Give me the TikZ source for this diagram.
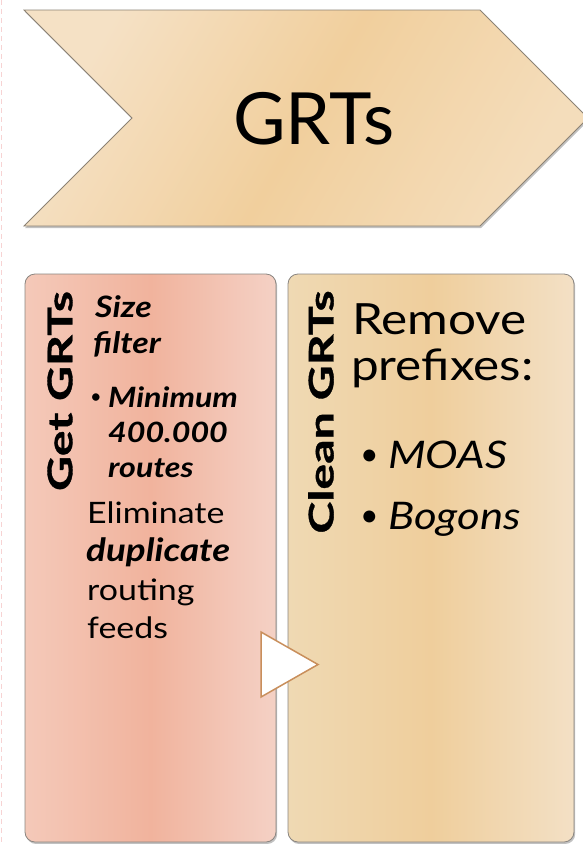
\documentclass[tikz,border=0pt]{standalone}
\usepackage{fontspec}
\setmainfont{Lato}
\newfontfamily\panelfont{Lato}[FakeStretch=1.15]
\newfontfamily\vlabelfont{Lato}[FakeStretch=1.42, FakeBold=1]
\usetikzlibrary{shadows}
\definecolor{chevA}{HTML}{F5E1C5}
\definecolor{chevB}{HTML}{F1CF9D}
\definecolor{chevC}{HTML}{F4DDBB}
\definecolor{chevline}{HTML}{8C8274}
\definecolor{lpA}{HTML}{F4C9B9}
\definecolor{lpB}{HTML}{F1B39D}
\definecolor{lpC}{HTML}{F4D1C5}
\definecolor{rpA}{HTML}{EFD9B3}
\definecolor{rpB}{HTML}{EFCE9C}
\definecolor{rpC}{HTML}{F3E0C5}
\definecolor{panelline}{HTML}{8A8580}
\definecolor{triline}{HTML}{C98F5C}
\definecolor{slideedge}{HTML}{F7D3D3}
\tikzset{
  softshadow/.style={drop shadow={shadow xshift=1.2pt, shadow yshift=-2pt, opacity=0.35, fill=black!70}},
  panel/.style={draw=panelline, line width=0.8pt, rounded corners=10pt, softshadow, inner sep=0pt},
  vlabel/.style={rotate=90, inner sep=0pt, font=\vlabelfont\bfseries\fontsize{34}{40}\selectfont},
  txt/.style={anchor=base west, inner sep=0pt},
  lvone/.style={txt, font=\panelfont\fontsize{29.5}{36}\selectfont},
  lvtwo/.style={txt, font=\panelfont\fontsize{28}{32}\selectfont},
  rvone/.style={txt, font=\panelfont\fontsize{43}{48}\selectfont},
  rvtwo/.style={txt, font=\panelfont\fontsize{38}{44}\selectfont},
  bul/.style={txt, font=\fontsize{20}{24}\selectfont},
  tri/.style={draw=triline, fill=white, line width=1.5pt, line join=miter}
}
\begin{document}
\begin{tikzpicture}[x=1pt, y=-1pt]
\useasboundingbox (0,0) rectangle (583,844);
\clip (0,0) rectangle (583,844);
% slide edge
\draw[slideedge, line width=1.2pt, dash pattern=on 5pt off 4pt] (1.5,0) -- (1.5,844);
% chevron
\path[draw=chevline, line width=0.8pt, softshadow,
      left color=chevA, right color=chevC, middle color=chevB, shading angle=60]
  (24,10) -- (480,10) -- (588,118) -- (480,226) -- (24,226) -- (132,118) -- cycle;
\node[anchor=base, inner sep=0pt, font=\fontsize{72}{80}\selectfont] (title) at (314,144) {GRTs};
% panels
\node[panel, left color=lpA, right color=lpC, middle color=lpB,
      minimum width=251pt, minimum height=568pt] (getp) at (150.5,558) {};
\node[panel, left color=rpA, right color=rpC, middle color=rpB,
      minimum width=286pt, minimum height=568pt] (cleanp) at (431,558) {};
% flow triangle
\draw[tri] (261,632) -- (318,664.5) -- (261,697) -- cycle;
% vertical labels
\node[vlabel] (getlbl) at (60,391) {Get GRTs};
\node[vlabel] (cleanlbl) at (321,412) {Clean GRTs};
% left panel text
\node[lvone] (size) at (95,317) {\bfseries\itshape Size};
\node[lvone] (filter) at (93,353) {\bfseries\itshape filter};
\node[bul] (bul1) at (90,403) {\textbullet};
\node[lvtwo] (minimum) at (108,407) {\bfseries\itshape Minimum};
\node[lvtwo] (num) at (108,442) {\bfseries\itshape 400.000};
\node[lvtwo] (routes) at (108,477) {\bfseries\itshape routes};
\node[lvone] (elim) at (87,523) {Eliminate};
\node[lvone, font=\panelfont\fontsize{32}{36}\selectfont] (dup) at (86,561) {\bfseries\itshape duplicate};
\node[lvone] (routing) at (87,600) {routing};
\node[lvone] (feeds) at (87,638) {feeds};
% right panel text
\node[rvone] (remove) at (352,334) {Remove};
\node[rvone] (prefixes) at (351,380) {prefixes:};
\node[bul, font=\fontsize{32}{36}\selectfont] (bul2) at (360,465) {\textbullet};
\node[rvtwo] (moas) at (388,468) {\itshape MOAS};
\node[bul, font=\fontsize{32}{36}\selectfont] (bul3) at (360,526) {\textbullet};
\node[rvtwo] (bogons) at (388,529) {\itshape Bogons};
\end{tikzpicture}
\end{document}
